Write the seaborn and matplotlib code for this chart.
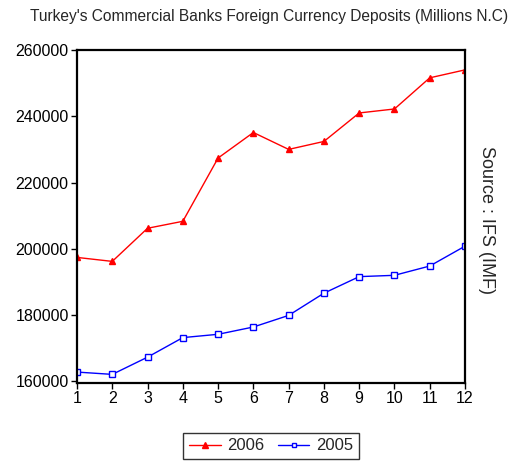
import matplotlib
matplotlib.use("Agg")
import matplotlib.pyplot as plt
from matplotlib.lines import Line2D
import seaborn as sns
import pandas as pd

months = list(range(1, 13))
deposits_2006 = [197400, 196200, 206200, 208300, 227400, 235100,
                 230000, 232400, 241000, 242200, 251600, 254000]
deposits_2005 = [162800, 162100, 167300, 173200, 174200, 176400,
                 179900, 186600, 191600, 192000, 194800, 200800]
series_names = ["2006", "2005"]
y_ticks = [160000, 180000, 200000, 220000, 240000, 260000]

df = pd.DataFrame({
    "month": months * 2,
    "value": deposits_2006 + deposits_2005,
    "year": [series_names[0]] * 12 + [series_names[1]] * 12,
})

sns.set_style("white")
plt.rcParams["font.family"] = ["Liberation Sans", "DejaVu Sans"]

fig = plt.figure(figsize=(5.21, 4.62), dpi=100)
ax = fig.add_axes([77 / 521, 1 - 383 / 462, 388 / 521, 333 / 462])

palette = {"2006": "#ff0000", "2005": "#0000ff"}
sns.lineplot(data=df, x="month", y="value", hue="year", style="year",
             markers={"2006": "^", "2005": "s"}, dashes=False,
             palette=palette, linewidth=1.0, markersize=5,
             markeredgewidth=1.0, ax=ax, legend=False)
# open squares for 2005, solid triangles for 2006
for line in ax.lines:
    if line.get_marker() == "s":
        line.set_markerfacecolor("white")
        line.set_markeredgecolor("#0000ff")
        line.set_markersize(4.5)
    else:
        line.set_markeredgecolor("#ff0000")

ax.set_xlim(1, 12)
ax.set_ylim(159500, 260000)
ax.set_xticks(months)
ax.set_yticks(y_ticks)
ax.set_yticklabels([str(t) for t in y_ticks])
ax.set_xlabel("")
ax.set_ylabel("")
ax.tick_params(axis="both", direction="out", length=4, width=1,
               labelsize=11.5, color="black", labelcolor="black",
               left=True, bottom=True, pad=2)
for s in ax.spines.values():
    s.set_visible(True)
    s.set_color("black")
    s.set_linewidth(1.6)

fig.text(30 / 521, 1 - 17 / 462,
         "Turkey's Commercial Banks Foreign Currency Deposits (Millions N.C)",
         ha="left", va="center", fontsize=11.2)
fig.text(487 / 521, 1 - 220 / 462, "Source : IFS (IMF)", rotation=-90,
         ha="center", va="center", fontsize=13)

handles = [
    Line2D([], [], color="#ff0000", marker="^", markersize=4, linewidth=1.0),
    Line2D([], [], color="#0000ff", marker="s", markersize=3.5,
           markerfacecolor="white", linewidth=1.0),
]
leg = fig.legend(handles, series_names, loc="center",
                 bbox_to_anchor=(271 / 521, 1 - 446 / 462), ncol=2,
                 fontsize=12, frameon=True, fancybox=False,
                 handlelength=1.9, columnspacing=0.8, borderpad=0.35,
                 handletextpad=0.4, borderaxespad=0)
leg.get_frame().set_edgecolor("black")
leg.get_frame().set_linewidth(1.0)

fig.savefig("out.png", dpi=100)
